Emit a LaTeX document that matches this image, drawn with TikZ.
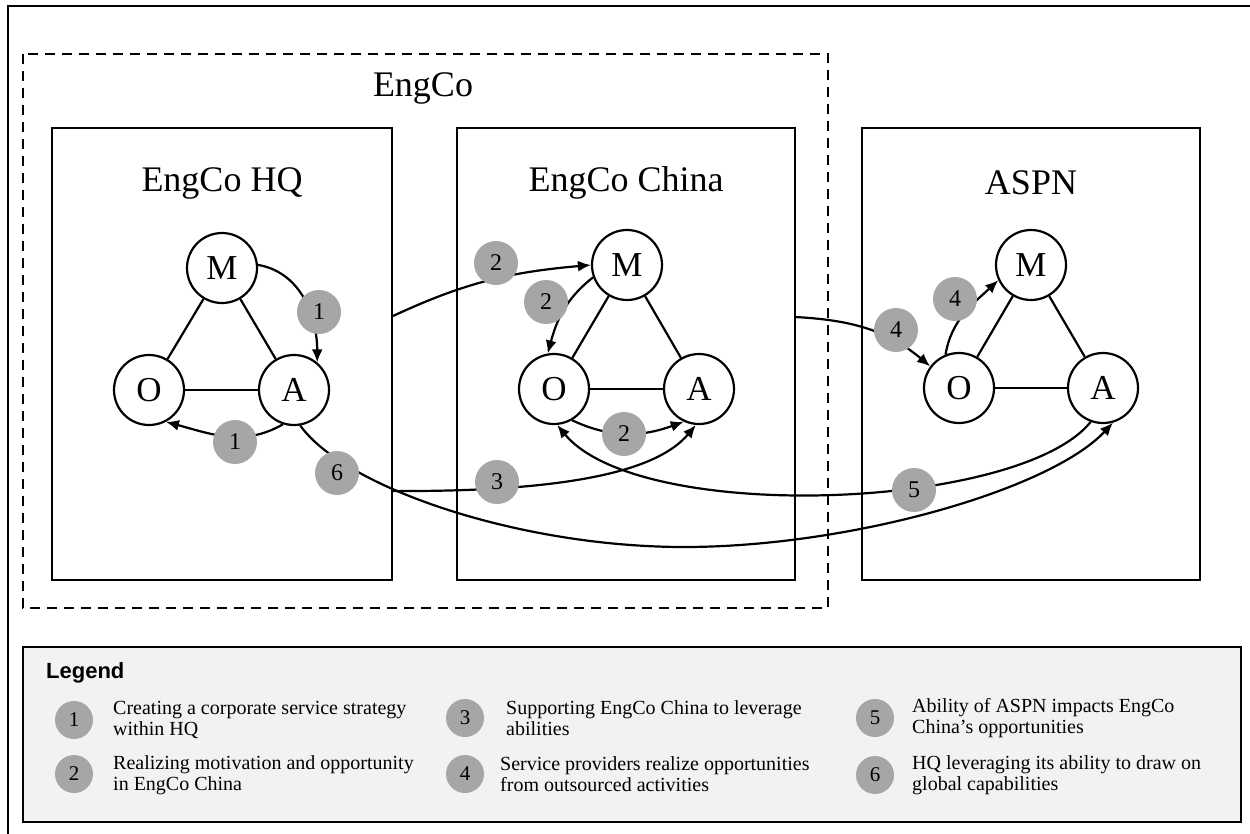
\documentclass[tikz,border=0pt]{standalone}
\usepackage{fontspec}
\setmainfont{Liberation Serif}
\newfontfamily\legendfont{Liberation Sans}
\usetikzlibrary{arrows.meta}
\definecolor{badgegray}{RGB}{166,166,166}
\definecolor{legendfill}{RGB}{242,242,242}
\begin{document}
\begin{tikzpicture}[x=1pt,y=1pt,
  box/.style={draw, line width=2.2pt, inner sep=0pt},
  vert/.style={circle, draw, line width=2.2pt, fill=white, minimum size=70pt, inner sep=0pt, font=\fontsize{35}{35}\selectfont},
  badge/.style={circle, fill=badgegray, minimum size=44pt, inner sep=0pt, font=\fontsize{24}{24}\selectfont},
  lbadge/.style={circle, fill=badgegray, minimum size=38pt, inner sep=0pt, font=\fontsize{21}{21}\selectfont},
  conn/.style={line width=2.2pt},
  arr/.style={line width=2.2pt, -{Latex[length=13pt,width=11pt]}},
  title/.style={font=\fontsize{36}{36}\selectfont},
  ltext/.style={anchor=west, align=left, inner sep=0pt, font=\fontsize{20}{21}\selectfont},
]
\useasboundingbox (0,0) rectangle (1250,-833);
% outer frame
\draw[line width=2.2pt] (8,-840) -- (8,-6) -- (1260,-6);
% EngCo dashed group
\draw[line width=2.2pt, dash pattern=on 10pt off 7pt] (23,-54) rectangle (828,-608);
\node[title] (engco) at (423,-88) {EngCo};
% unit boxes
\node[box, minimum width=340pt, minimum height=452pt] (hq) at (222,-354) {};
\node[box, minimum width=338pt, minimum height=452pt] (ch) at (626,-354) {};
\node[box, minimum width=338pt, minimum height=452pt] (as) at (1031,-354) {};
\node[title] (hqt) at (222,-183) {EngCo HQ};
\node[title] (cht) at (626,-183) {EngCo China};
\node[title] (ast) at (1031,-183) {ASPN};
% vertices
\node[vert] (hqM) at (222,-268) {M};
\node[vert] (hqO) at (149,-390) {O};
\node[vert] (hqA) at (294,-390) {A};
\node[vert] (chM) at (627,-265) {M};
\node[vert] (chO) at (554,-389) {O};
\node[vert] (chA) at (699,-389) {A};
\node[vert] (asM) at (1031,-265) {M};
\node[vert] (asO) at (959,-388) {O};
\node[vert] (asA) at (1103,-388) {A};
% triangle edges
\foreach \p in {hq,ch,as}{
  \draw[conn] (\p M) -- (\p O);
  \draw[conn] (\p M) -- (\p A);
  \draw[conn] (\p O) -- (\p A);
}
% free ends on box borders and waypoint
\coordinate (s2) at (393,-316);
\coordinate (s3) at (393,-491);
\coordinate (s4) at (795,-317);
\coordinate (low6) at (684,-547);
% connectors
\draw[arr] (hqM.5) to[out=-10,in=90] (hqA.50);
\draw[arr] (hqA.-108) to[out=-150,in=-15] (hqO.-62);
\draw[arr] (hqA.-80) .. controls (345,-488) and (520,-547) .. (low6) .. controls (850,-547) and (1050,-490) .. (asA.-74);
\draw[arr] (s2) to[out=25,in=185] (chM.west);
\draw[arr] (chM.200) to[out=218,in=75] (chO.100);
\draw[arr] (chO.-60) to[out=-25,in=200] (chA.-115);
\draw[arr] (s3) .. controls (580,-492) and (660,-468) .. (chA.-95);
\draw[arr] (asA.-110) .. controls (1020,-510) and (640,-525) .. (chO.-85);
\draw[arr] (s4) to[out=-3,in=140] (asO.143);
\draw[arr] (asO.112) to[out=80,in=223] (asM.205);
% badges
\node[badge] (b1a) at (319,-312) {1};
\node[badge] (b1b) at (235,-442) {1};
\node[badge] (b6) at (337,-473) {6};
\node[badge] (b2a) at (496,-263) {2};
\node[badge] (b2b) at (546,-302) {2};
\node[badge] (b2c) at (624,-434) {2};
\node[badge] (b3) at (497,-482) {3};
\node[badge] (b4a) at (955,-299) {4};
\node[badge] (b4b) at (896,-330) {4};
\node[badge] (b5) at (914,-490) {5};
% legend
\draw[line width=2.5pt, fill=legendfill] (23,-647) rectangle (1241,-822);
\node[anchor=west, inner sep=0pt, font=\legendfont\bfseries\fontsize{22}{22}\selectfont] (lg) at (46,-673) {Legend};
\node[lbadge] (l1) at (74,-720) {1};
\node[ltext] (l1t) at (113,-720) {Creating a corporate service strategy\\within HQ};
\node[lbadge] (l2) at (74,-774) {2};
\node[ltext] (l2t) at (113,-775) {Realizing motivation and opportunity\\in EngCo China};
\node[lbadge] (l3) at (465,-718) {3};
\node[ltext] (l3t) at (506,-718) {Supporting EngCo China to leverage\\abilities};
\node[lbadge] (l4) at (465,-774) {4};
\node[ltext] (l4t) at (500,-774) {Service providers realize opportunities\\from outsourced activities};
\node[lbadge] (l5) at (875,-718) {5};
\node[ltext] (l5t) at (912,-718) {Ability of ASPN impacts EngCo\\China's opportunities};
\node[lbadge] (l6) at (875,-775) {6};
\node[ltext] (l6t) at (912,-775) {HQ leveraging its ability to draw on\\global capabilities};
\end{tikzpicture}
\end{document}
